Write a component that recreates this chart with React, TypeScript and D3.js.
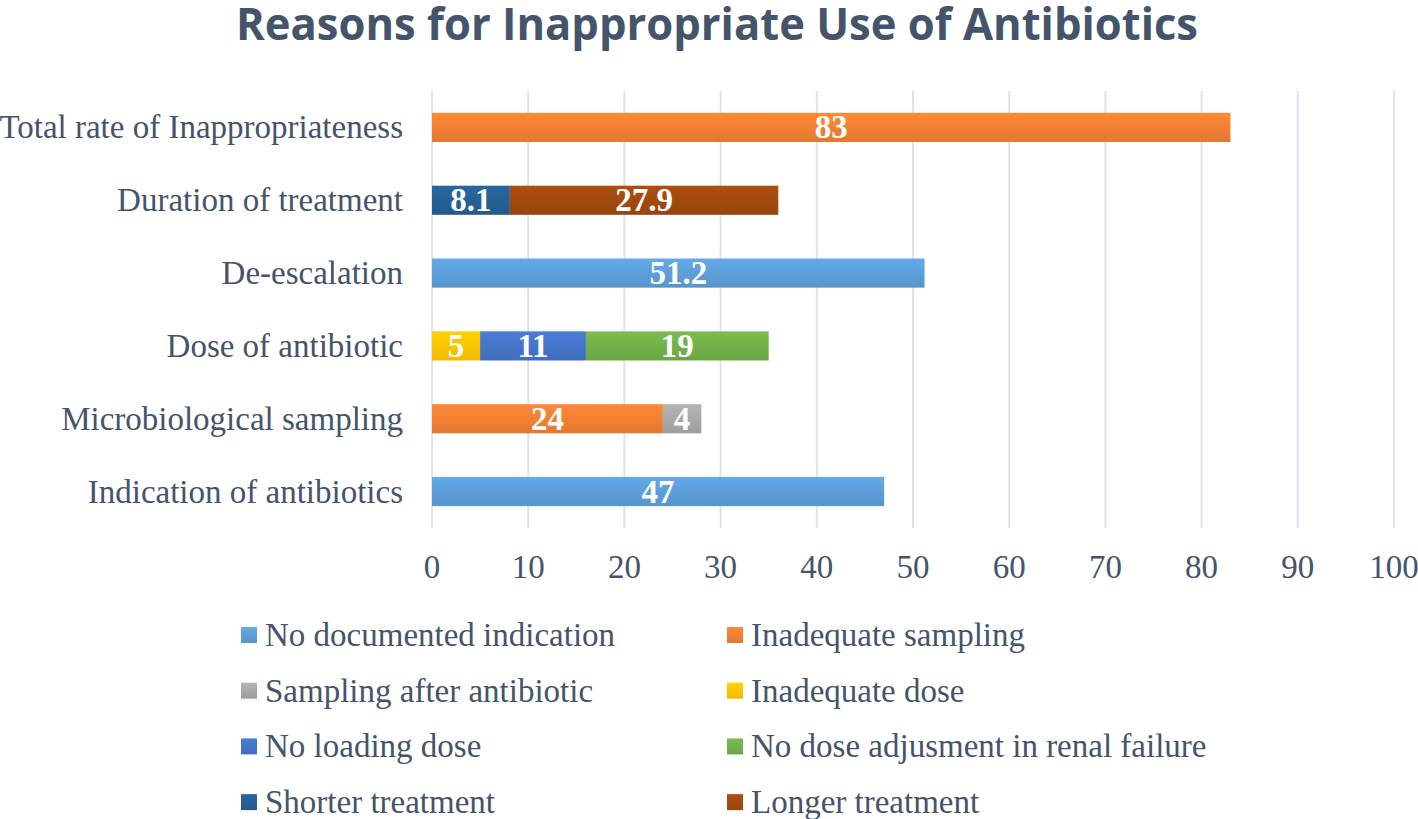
import * as d3 from "d3";

const categories = [
  "Total rate of Inappropriateness",
  "Duration of treatment",
  "De-escalation",
  "Dose of antibiotic",
  "Microbiological sampling",
  "Indication of antibiotics",
];

const seriesNames = [
  "No documented indication",
  "Inadequate sampling",
  "Sampling after antibiotic",
  "Inadequate dose",
  "No loading dose",
  "No dose adjusment in renal failure",
  "Shorter treatment",
  "Longer treatment",
];

const seriesColors = [
  "#5B9BD5",
  "#ED7D31",
  "#A5A5A5",
  "#FFC000",
  "#4472C4",
  "#70AD47",
  "#255E91",
  "#9E480E",
];

// values per series, in category order (top to bottom)
const noDocumented = [0, 0, 51.2, 0, 0, 47];
const inadequateSampling = [83, 0, 0, 0, 24, 0];
const samplingAfter = [0, 0, 0, 0, 4, 0];
const inadequateDose = [0, 0, 0, 5, 0, 0];
const noLoading = [0, 0, 0, 11, 0, 0];
const noDoseAdjust = [0, 0, 0, 19, 0, 0];
const shorterTreatment = [0, 8.1, 0, 0, 0, 0];
const longerTreatment = [0, 27.9, 0, 0, 0, 0];

const seriesValues = [
  noDocumented,
  inadequateSampling,
  samplingAfter,
  inadequateDose,
  noLoading,
  noDoseAdjust,
  shorterTreatment,
  longerTreatment,
];

const xTicks = [0, 10, 20, 30, 40, 50, 60, 70, 80, 90, 100];

const W = 1418;
const H = 819;
const TEXT = "#44546A";
const SERIF = "'Liberation Serif', 'Times New Roman', serif";

export default function App() {
  const x = d3.scaleLinear().domain([0, 100]).range([432, 1394]);
  const y = d3
    .scaleBand<string>()
    .domain(categories)
    .range([91, 528])
    .paddingInner(0.6)
    .paddingOuter(0.3);

  const rows = categories.map((c, i) => ({
    key: c,
    ...Object.fromEntries(seriesNames.map((s, j) => [s, seriesValues[j][i]])),
  }));
  const stacked = d3.stack<any>().keys(seriesNames)(rows);

  const fmt = (v: number) => (Number.isInteger(v) ? String(v) : v.toFixed(1));

  return (
    <svg
      width={W}
      height={H}
      style={{ position: "absolute", left: 0, top: 0, background: "#fff" }}
    >
      <defs>
        {seriesColors.map((c, i) => (
          <linearGradient key={i} id={`g${i}`} x1="0" y1="0" x2="0" y2="1">
            <stop offset="0" stopColor={d3.color(c)!.brighter(0.25).formatHex()} />
            <stop offset="1" stopColor={d3.color(c)!.darker(0.12).formatHex()} />
          </linearGradient>
        ))}
      </defs>

      <text
        x={717}
        y={40}
        textAnchor="middle"
        fontFamily="'Open Sans', sans-serif"
        fontWeight={700}
        fontSize={45}
        fill={TEXT}
        textLength={962}
        lengthAdjust="spacingAndGlyphs"
      >
        Reasons for Inappropriate Use of Antibiotics
      </text>

      {xTicks.map((t) => (
        <g key={t}>
          <line
            x1={x(t)}
            x2={x(t)}
            y1={91}
            y2={528}
            stroke="#DDE3EB"
            strokeWidth={2}
          />
          <text
            x={x(t)}
            y={578}
            textAnchor="middle"
            fontFamily={SERIF}
            fontSize={33}
            fill={TEXT}
          >
            {t}
          </text>
        </g>
      ))}

      {categories.map((c) => (
        <text
          key={c}
          x={403}
          y={(y(c) ?? 0) + y.bandwidth() / 2 + 11}
          textAnchor="end"
          fontFamily={SERIF}
          fontSize={33}
          fill={TEXT}
        >
          {c}
        </text>
      ))}

      {stacked.map((layer, si) => (
        <g key={layer.key}>
          {layer.map((d, ci) => {
            const v = d[1] - d[0];
            if (!v) return null;
            const cat = categories[ci];
            const x0 = x(d[0]);
            const x1 = x(d[1]);
            const yy = y(cat) ?? 0;
            return (
              <g key={cat}>
                <rect
                  x={x0}
                  y={yy}
                  width={x1 - x0}
                  height={y.bandwidth()}
                  fill={`url(#g${si})`}
                />
                <text
                  x={(x0 + x1) / 2}
                  y={yy + y.bandwidth() / 2 + 11}
                  textAnchor="middle"
                  fontFamily={SERIF}
                  fontWeight={700}
                  fontSize={33}
                  fill="#fff"
                >
                  {fmt(v)}
                </text>
              </g>
            );
          })}
        </g>
      ))}

      {seriesNames.map((s, i) => {
        const col = i % 2;
        const row = Math.floor(i / 2);
        const sx = col === 0 ? 241 : 727;
        const cy = 635 + row * 55.7;
        return (
          <g key={s}>
            <rect x={sx} y={cy - 8} width={16} height={16} fill={`url(#g${i})`} />
            <text
              x={sx + 24}
              y={cy + 11}
              fontFamily={SERIF}
              fontSize={33}
              fill={TEXT}
            >
              {s}
            </text>
          </g>
        );
      })}
    </svg>
  );
}
